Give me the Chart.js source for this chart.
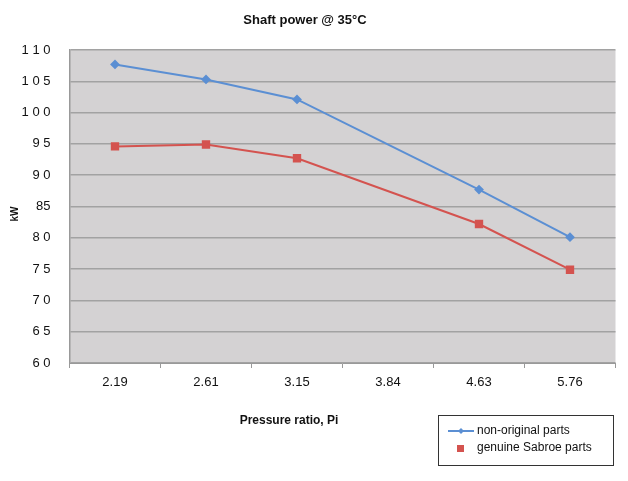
<!DOCTYPE html>
<html>
<head>
<meta charset="utf-8">
<script src="https://cdn.jsdelivr.net/npm/chart.js@4"></script>
<style>
html,body{margin:0;padding:0;background:#fff;}
#wrap{width:628px;height:481px;position:relative;}
</style>
</head>
<body>
<div id="wrap"><canvas id="c" width="628" height="481"></canvas></div>
<script>
const categories = ["2.19", "2.61", "3.15", "3.84", "4.63", "5.76"];
const nonOriginal = [107.7, 105.3, 102.1, null, 87.7, 80.1];
const genuine = [94.6, 94.9, 92.7, null, 82.2, 74.9];
const yTickValues = [60, 65, 70, 75, 80, 85, 90, 95, 100, 105, 110];
const yTickLabels = ["6 0", "6 5", "7 0", "7 5", "8 0", "85", "9 0", "9 5", "1 0 0", "1 0 5", "1 1 0"];
const seriesNames = ["non-original parts", "genuine Sabroe parts"];
const titleText = "Shaft power @ 35°C";
const xTitle = "Pressure ratio, Pi";
const yTitle = "kW";

const BLUE = "#5b8fd3";
const RED = "#d4534f";
const FONT = "'Liberation Sans', Arial, sans-serif";

const decor = {
  id: 'decor',
  beforeDraw(chart) {
    const {ctx, chartArea: a} = chart;
    ctx.save();
    ctx.fillStyle = '#d4d2d3';
    ctx.fillRect(a.left, a.top, a.right - a.left, a.bottom - a.top);
    ctx.restore();
  },
  afterDraw(chart) {
    const ctx = chart.ctx;
    ctx.save();
    ctx.fillStyle = '#111';
    ctx.textAlign = 'center';
    ctx.textBaseline = 'middle';
    ctx.font = "bold 13px " + FONT;
    ctx.fillText(titleText, 305, 20);
    ctx.font = "bold 12px " + FONT;
    ctx.fillText(xTitle, 289, 421);
    ctx.save();
    ctx.translate(15, 214);
    ctx.rotate(-Math.PI / 2);
    ctx.font = "bold 10px " + FONT;
    ctx.fillText(yTitle, 0, 0);
    ctx.restore();
    // legend
    ctx.strokeStyle = '#333';
    ctx.lineWidth = 1;
    ctx.strokeRect(438.5, 415.5, 175, 50);
    const ds = chart.data.datasets;
    ctx.strokeStyle = ds[0].borderColor;
    ctx.lineWidth = 2;
    ctx.beginPath(); ctx.moveTo(448, 431); ctx.lineTo(474, 431); ctx.stroke();
    ctx.fillStyle = ds[0].backgroundColor;
    ctx.beginPath(); ctx.moveTo(461, 428); ctx.lineTo(464, 431); ctx.lineTo(461, 434); ctx.lineTo(458, 431); ctx.closePath(); ctx.fill();
    ctx.fillStyle = ds[1].backgroundColor;
    ctx.fillRect(457, 445, 7, 7);
    ctx.fillStyle = '#111';
    ctx.textAlign = 'left';
    ctx.font = "12px " + FONT;
    ctx.fillText(ds[0].label, 477, 431);
    ctx.fillText(ds[1].label, 477, 448);
    ctx.restore();
  }
};

new Chart(document.getElementById('c'), {
  type: 'line',
  data: {
    labels: categories,
    datasets: [
      {label: seriesNames[0], data: nonOriginal, borderColor: BLUE, backgroundColor: BLUE,
       borderWidth: 2, pointStyle: 'rectRot', pointRadius: 3.5, pointHoverRadius: 3.5, spanGaps: true, tension: 0},
      {label: seriesNames[1], data: genuine, borderColor: RED, backgroundColor: RED,
       borderWidth: 2, pointStyle: 'rect', pointRadius: 4.5, pointHoverRadius: 4.5, spanGaps: true, tension: 0}
    ]
  },
  options: {
    responsive: false,
    animation: false,
    devicePixelRatio: 1,
    layout: {padding: {left: 0, top: 50, right: 12.5, bottom: 84}},
    plugins: {legend: {display: false}, title: {display: false}, tooltip: {enabled: false}},
    scales: {
      x: {
        offset: true,
        grid: {display: true, drawOnChartArea: false, drawTicks: true, tickLength: 5, color: '#999', offset: true},
        border: {display: true, color: '#999', width: 1},
        ticks: {color: '#111', font: {family: FONT, size: 13}, padding: 7, maxRotation: 0, autoSkip: false},
        afterFit(s) { s.height = 34; }
      },
      y: {
        min: 60, max: 110,
        afterBuildTicks(s) { s.ticks = yTickValues.map(v => ({value: v})); },
        grid: {color: '#a2a2a2', lineWidth: 1.5, drawTicks: false},
        border: {display: true, color: '#999', width: 1.5},
        ticks: {
          color: '#111', font: {family: FONT, size: 13}, padding: 19,
          callback: (v) => { const i = yTickValues.indexOf(v); return i >= 0 ? yTickLabels[i] : ''; }
        },
        afterFit(s) { s.width = 69.5; }
      }
    }
  },
  plugins: [decor]
});
</script>
</body>
</html>
